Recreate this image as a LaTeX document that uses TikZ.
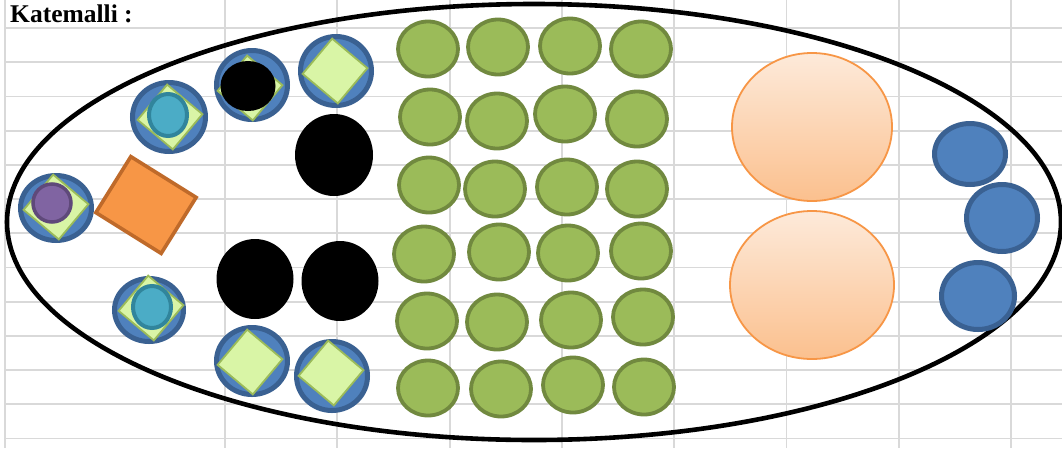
\documentclass[tikz,border=0pt]{standalone}
\usepackage{fontspec}
\setmainfont{Liberation Serif}
\usepackage{xcolor}
\usepackage{tikz}
\usetikzlibrary{shapes.geometric}
\definecolor{gridgrey}{HTML}{D9D9D9}
\definecolor{seedgreen}{HTML}{9BBB59}
\definecolor{seedrim}{HTML}{71893F}
\definecolor{discblue}{HTML}{4F81BD}
\definecolor{discrim}{HTML}{3A6192}
\definecolor{chipgreen}{HTML}{D9F5A6}
\definecolor{chiprim}{HTML}{9BBB59}
\definecolor{tealfill}{HTML}{4BACC6}
\definecolor{tealrim}{HTML}{31859C}
\definecolor{plumfill}{HTML}{8064A2}
\definecolor{plumrim}{HTML}{5F497A}
\definecolor{brick}{HTML}{F79646}
\definecolor{brickrim}{HTML}{BF6A2A}
\definecolor{peachtop}{HTML}{FDEADA}
\definecolor{peachbottom}{HTML}{FBC08E}
\tikzset{
  cell/.style={draw=gridgrey, line width=1.8pt},
  title/.style={font=\fontsize{25.5}{30}\selectfont\bfseries, inner sep=0pt},
  pod/.style={ellipse, draw=black, line width=4.6pt, minimum width=1054pt, minimum height=436pt, inner sep=0pt},
  seed/.style={ellipse, fill=seedgreen, draw=seedrim, line width=3.8pt, minimum width=60pt, minimum height=55pt, inner sep=0pt},
  disc/.style={ellipse, fill=discblue, draw=discrim, line width=5pt, inner sep=0pt},
  chip/.style={rectangle, fill=chipgreen, draw=chiprim, line width=1.8pt, minimum size=46pt, rotate=-40, inner sep=0pt},
  teal/.style={ellipse, fill=tealfill, draw=tealrim, line width=4pt, minimum width=38pt, minimum height=42pt, inner sep=0pt},
  plum/.style={ellipse, fill=plumfill, draw=plumrim, line width=3.5pt, minimum size=38pt, inner sep=0pt},
  coal/.style={ellipse, fill=black, inner sep=0pt},
  brickbox/.style={rectangle, fill=brick, draw=brickrim, line width=3.6pt, minimum width=77pt, minimum height=66pt, rotate=-32, inner sep=0pt},
  peach/.style={ellipse, top color=peachtop, bottom color=peachbottom, draw=brick, line width=1.8pt, inner sep=0pt},
}

\begin{document}
\begin{tikzpicture}[x=1pt, y=-1pt]
  % Worksheet grid, then the pod and its contents.
  \useasboundingbox (0,0) rectangle (1062,448);
  \fill[white] (0,0) rectangle (1062,448);
  \foreach \r in {0,...,12} \draw[cell] (5,28+34.2*\r) -- (1062,28+34.2*\r);
  \draw[cell] (5,0) -- (5,448);
  \foreach \c in {0,...,7} \draw[cell] (225+112.3*\c,0) -- (225+112.3*\c,448);
  \node[title, anchor=west] (title) at (10,14) {Katemalli :};
  \node[pod] (pod) at (534,222) {};

  % left cluster
  \node[disc, minimum width=71pt, minimum height=65pt] (disc1) at (56,208) {};
  \node[chip] (chip1) at (56,207) {};
  \node[plum] (plum1) at (52,203) {};
  \node[disc, minimum width=73pt, minimum height=69pt] (disc2) at (169,117) {};
  \node[chip] (chip2) at (170,117) {};
  \node[teal] (teal2) at (168,115) {};
  \node[disc, minimum width=71pt, minimum height=69pt] (disc3) at (252,85) {};
  \node[chip] (chip3) at (250,88) {};
  \node[coal, minimum width=55pt, minimum height=50pt] (coal3) at (248,86) {};
  \node[disc, minimum width=71pt, minimum height=69pt] (disc4) at (336,71) {};
  \node[chip] (chip4) at (335,71) {};
  \node[disc, minimum width=69pt, minimum height=63pt] (disc5) at (149,310) {};
  \node[chip] (chip5) at (151,308) {};
  \node[teal] (teal5) at (152,307) {};
  \node[disc, minimum width=71pt, minimum height=67pt] (disc6) at (252,361) {};
  \node[chip] (chip6) at (250,362) {};
  \node[disc, minimum width=71pt, minimum height=69pt] (disc7) at (332,376) {};
  \node[chip] (chip7) at (331,373) {};
  \node[brickbox] (brick) at (146,205) {};
  \node[coal, minimum width=78pt, minimum height=82pt] (coala) at (334,155) {};
  \node[coal, minimum width=77pt, minimum height=80pt] (coalb) at (255,279) {};
  \node[coal, minimum width=77pt, minimum height=80pt] (coalc) at (340,281) {};

  % green seeds, 6 rows of 4
  \foreach \x/\y [count=\i] in {428/49, 498/47, 570/46, 641/49,
      430/117, 497/121, 565/114, 637/119,
      429/185, 495/189, 567/187, 637/189,
      424/254, 499/252, 568/253, 641/251,
      427/321, 497/322, 571/320, 643/317,
      428/388, 501/389, 573/385, 644/387}
    \node[seed] (seed\i) at (\x,\y) {};

  % right end
  \node[peach, minimum width=160pt, minimum height=148pt] (peachup) at (812,127) {};
  \node[peach, minimum width=164pt, minimum height=148pt] (peachdown) at (812,285) {};
  \node[disc, minimum width=71pt, minimum height=61pt] (tail1) at (970,154) {};
  \node[disc, minimum width=71pt, minimum height=67pt] (tail2) at (1002,218) {};
  \node[disc, minimum width=73pt, minimum height=67pt] (tail3) at (978,296) {};
\end{tikzpicture}
\end{document}
